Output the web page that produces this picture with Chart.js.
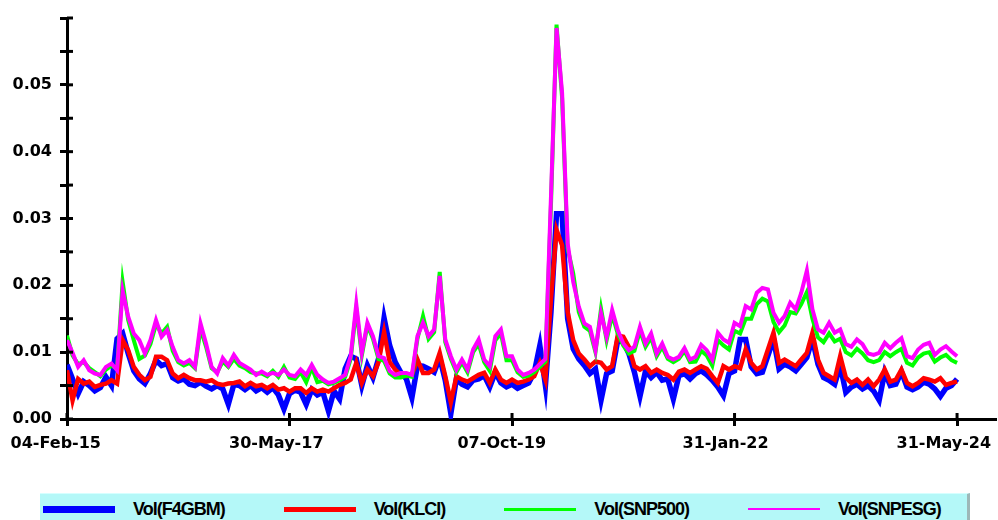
<!DOCTYPE html>
<html lang="en">
<head>
<meta charset="UTF-8">
<title>Volatility</title>
<script src="https://cdn.jsdelivr.net/npm/chart.js"></script>
<style>
    html, body { margin: 0; padding: 0; background: #fff; overflow: hidden; }
    .wrap { position: relative; width: 998px; height: 520px; }
    #volChart { position: absolute; left: 0; top: 0; }
    .legend {
        position: absolute; left: 40px; top: 493px; width: 930px; height: 34px;
        background: #b4f8f8; border-top: 1px solid #d6ffff; border-right: 3px solid #9db8b8;
        display: flex; align-items: flex-start; gap: 59px; padding-left: 3px; box-sizing: border-box;
        font-family: "Liberation Sans", Arial, sans-serif; font-weight: bold; font-size: 18px;
        letter-spacing: -1px; color: #000;
    }
    .legend .item { display: flex; align-items: center; height: 30px; }
    .legend .line { display: inline-block; width: 72px; margin-right: 18px; }
</style>
</head>
<body>
<div class="wrap">
    <canvas id="volChart" width="998" height="520"></canvas>
    <div class="legend" id="legend"></div>
</div>
<script>
// tick labels along the time axis (index of observation)
const xTickPos = [0, 40, 80, 120, 160];
const xTickLabels = ['04-Feb-15', '30-May-17', '07-Oct-19', '31-Jan-22', '31-May-24'];
const yTickLabels = ['0.00', '0.01', '0.02', '0.03', '0.04', '0.05'];

const seriesNames = ['Vol(F4GBM)', 'Vol(KLCI)', 'Vol(SNP500)', 'Vol(SNPESG)'];

const volF4GBM = [
    0.0081, 0.0060, 0.0038, 0.0056, 0.0050, 0.0042, 0.0047, 0.0063, 0.0050, 0.0120,
    0.0128, 0.0098, 0.0072, 0.0060, 0.0053, 0.0068, 0.0088, 0.0080, 0.0083, 0.0062,
    0.0057, 0.0060, 0.0052, 0.0050, 0.0055, 0.0049, 0.0045, 0.0050, 0.0045, 0.0022,
    0.0052, 0.0050, 0.0044, 0.0050, 0.0042, 0.0047, 0.0040, 0.0047, 0.0036, 0.0015,
    0.0038, 0.0043, 0.0040, 0.0022, 0.0044, 0.0036, 0.0040, 0.0012, 0.0042, 0.0030,
    0.0075, 0.0094, 0.0090, 0.0050, 0.0080, 0.0062, 0.0090, 0.0151, 0.0110, 0.0085,
    0.0070, 0.0060, 0.0032, 0.0080, 0.0079, 0.0075, 0.0070, 0.0092, 0.0058, 0.0008,
    0.0060, 0.0052, 0.0048, 0.0058, 0.0060, 0.0065, 0.0048, 0.0070, 0.0054, 0.0048,
    0.0052, 0.0046, 0.0050, 0.0054, 0.0070, 0.0110, 0.0050, 0.0160, 0.0307, 0.0307,
    0.0150, 0.0105, 0.0090, 0.0080, 0.0068, 0.0075, 0.0028, 0.0068, 0.0072, 0.0118,
    0.0115, 0.0098, 0.0070, 0.0034, 0.0072, 0.0062, 0.0070, 0.0058, 0.0060, 0.0030,
    0.0065, 0.0068, 0.0060, 0.0068, 0.0072, 0.0066, 0.0058, 0.0048, 0.0035, 0.0068,
    0.0072, 0.0119, 0.0119, 0.0078, 0.0068, 0.0070, 0.0095, 0.0120, 0.0075, 0.0082,
    0.0078, 0.0072, 0.0082, 0.0092, 0.0120, 0.0082, 0.0062, 0.0058, 0.0052, 0.0080,
    0.0040, 0.0048, 0.0052, 0.0045, 0.0050, 0.0042, 0.0028, 0.0070, 0.0050, 0.0052,
    0.0071, 0.0048, 0.0044, 0.0048, 0.0055, 0.0052, 0.0045, 0.0034, 0.0046, 0.0050,
    0.0060
];

const volKLCI = [
    0.0073, 0.0028, 0.0060, 0.0053, 0.0056, 0.0048, 0.0051, 0.0053, 0.0058, 0.0053,
    0.0118, 0.0103, 0.0078, 0.0066, 0.0058, 0.0063, 0.0093, 0.0093, 0.0088, 0.0068,
    0.0061, 0.0066, 0.0061, 0.0058, 0.0058, 0.0056, 0.0058, 0.0053, 0.0051, 0.0053,
    0.0054, 0.0056, 0.0049, 0.0054, 0.0049, 0.0051, 0.0046, 0.0051, 0.0044, 0.0046,
    0.0041, 0.0046, 0.0046, 0.0039, 0.0046, 0.0041, 0.0044, 0.0041, 0.0046, 0.0051,
    0.0054, 0.0059, 0.0084, 0.0054, 0.0074, 0.0064, 0.0085, 0.0130, 0.0085, 0.0074,
    0.0066, 0.0064, 0.0066, 0.0089, 0.0069, 0.0069, 0.0074, 0.0099, 0.0064, 0.0025,
    0.0064, 0.0059, 0.0056, 0.0061, 0.0066, 0.0069, 0.0054, 0.0074, 0.0059, 0.0054,
    0.0059, 0.0054, 0.0056, 0.0059, 0.0064, 0.0084, 0.0059, 0.0180, 0.0283, 0.0260,
    0.0160, 0.0118, 0.0098, 0.0089, 0.0079, 0.0086, 0.0084, 0.0074, 0.0079, 0.0125,
    0.0123, 0.0108, 0.0079, 0.0074, 0.0079, 0.0069, 0.0074, 0.0069, 0.0066, 0.0059,
    0.0071, 0.0074, 0.0069, 0.0074, 0.0079, 0.0075, 0.0064, 0.0054, 0.0079, 0.0074,
    0.0079, 0.0076, 0.0104, 0.0084, 0.0074, 0.0079, 0.0104, 0.0129, 0.0084, 0.0089,
    0.0084, 0.0079, 0.0089, 0.0099, 0.0129, 0.0089, 0.0069, 0.0064, 0.0059, 0.0094,
    0.0062, 0.0054, 0.0059, 0.0051, 0.0059, 0.0049, 0.0059, 0.0074, 0.0056, 0.0059,
    0.0074, 0.0054, 0.0049, 0.0054, 0.0061, 0.0059, 0.0056, 0.0061, 0.0051, 0.0054,
    0.0056
];

const volSNP500 = [
    0.0125, 0.0095, 0.0082, 0.0085, 0.0076, 0.0070, 0.0064, 0.0074, 0.0080, 0.0075,
    0.0205, 0.0148, 0.0118, 0.0090, 0.0095, 0.0112, 0.0142, 0.0128, 0.0138, 0.0102,
    0.0085, 0.0080, 0.0084, 0.0076, 0.0135, 0.0108, 0.0076, 0.0070, 0.0086, 0.0078,
    0.0090, 0.0080, 0.0076, 0.0070, 0.0068, 0.0068, 0.0064, 0.0072, 0.0063, 0.0078,
    0.0062, 0.0060, 0.0070, 0.0055, 0.0077, 0.0055, 0.0057, 0.0052, 0.0054, 0.0058,
    0.0063, 0.0090, 0.0165, 0.0095, 0.0140, 0.0120, 0.0090, 0.0087, 0.0068, 0.0062,
    0.0062, 0.0065, 0.0063, 0.0120, 0.0154, 0.0120, 0.0130, 0.0220, 0.0115, 0.0090,
    0.0070, 0.0085, 0.0070, 0.0100, 0.0112, 0.0085, 0.0072, 0.0118, 0.0128, 0.0088,
    0.0088, 0.0070, 0.0063, 0.0065, 0.0070, 0.0078, 0.0086, 0.0320, 0.0590, 0.0480,
    0.0255, 0.0218, 0.0160, 0.0138, 0.0132, 0.0100, 0.0165, 0.0118, 0.0156, 0.0128,
    0.0110, 0.0098, 0.0102, 0.0132, 0.0108, 0.0122, 0.0094, 0.0108, 0.0090, 0.0085,
    0.0090, 0.0102, 0.0085, 0.0086, 0.0102, 0.0095, 0.0080, 0.0118, 0.0110, 0.0104,
    0.0132, 0.0128, 0.0150, 0.0150, 0.0172, 0.0180, 0.0176, 0.0145, 0.0130, 0.0140,
    0.0160, 0.0158, 0.0172, 0.0190, 0.0150, 0.0122, 0.0115, 0.0128, 0.0116, 0.0120,
    0.0100, 0.0095, 0.0105, 0.0098, 0.0088, 0.0085, 0.0088, 0.0100, 0.0094, 0.0100,
    0.0105, 0.0084, 0.0080, 0.0092, 0.0098, 0.0100, 0.0086, 0.0092, 0.0096, 0.0088,
    0.0084
];

const volSNPESG = [
    0.0118, 0.0099, 0.0078, 0.0088, 0.0073, 0.0068, 0.0066, 0.0078, 0.0083, 0.0073,
    0.0192, 0.0153, 0.0128, 0.0118, 0.0098, 0.0118, 0.0148, 0.0123, 0.0133, 0.0108,
    0.0088, 0.0083, 0.0088, 0.0078, 0.0143, 0.0113, 0.0078, 0.0068, 0.0091, 0.0080,
    0.0096, 0.0084, 0.0079, 0.0074, 0.0066, 0.0071, 0.0066, 0.0069, 0.0066, 0.0074,
    0.0066, 0.0064, 0.0074, 0.0066, 0.0081, 0.0066, 0.0059, 0.0054, 0.0056, 0.0061,
    0.0066, 0.0094, 0.0172, 0.0099, 0.0144, 0.0124, 0.0094, 0.0091, 0.0072, 0.0066,
    0.0069, 0.0069, 0.0066, 0.0124, 0.0144, 0.0124, 0.0134, 0.0214, 0.0119, 0.0094,
    0.0074, 0.0089, 0.0074, 0.0104, 0.0119, 0.0089, 0.0079, 0.0124, 0.0134, 0.0094,
    0.0094, 0.0074, 0.0066, 0.0069, 0.0074, 0.0082, 0.0090, 0.0333, 0.0585, 0.0488,
    0.0263, 0.0205, 0.0168, 0.0143, 0.0138, 0.0103, 0.0158, 0.0123, 0.0163, 0.0133,
    0.0113, 0.0103, 0.0108, 0.0138, 0.0113, 0.0128, 0.0098, 0.0113, 0.0093, 0.0089,
    0.0093, 0.0106, 0.0089, 0.0093, 0.0111, 0.0103, 0.0089, 0.0129, 0.0119, 0.0114,
    0.0144, 0.0139, 0.0169, 0.0164, 0.0189, 0.0196, 0.0194, 0.0159, 0.0144, 0.0154,
    0.0174, 0.0164, 0.0189, 0.0222, 0.0164, 0.0134, 0.0129, 0.0144, 0.0129, 0.0134,
    0.0112, 0.0108, 0.0119, 0.0112, 0.0098, 0.0096, 0.0099, 0.0114, 0.0106, 0.0114,
    0.0121, 0.0094, 0.0091, 0.0104, 0.0111, 0.0114, 0.0096, 0.0104, 0.0109, 0.0101,
    0.0094
];

const seriesColors = ['#0000ff', '#ff0000', '#00ff00', '#ff00ff'];
const legendWidths = [7, 5, 3, 2];

function toPoints(values) {
    return values.map((v, i) => ({ x: i, y: v }));
}

// ticks in the reference cross the axis line, draw the inner half too
const crossTicks = {
    id: 'crossTicks',
    afterDatasetsDraw(chart) {
        const { ctx, chartArea, scales } = chart;
        ctx.save();
        ctx.strokeStyle = '#000';
        ctx.lineWidth = 3;
        scales.y.ticks.forEach(t => {
            const py = scales.y.getPixelForValue(t.value);
            ctx.beginPath();
            ctx.moveTo(chartArea.left, py);
            ctx.lineTo(chartArea.left + 6, py);
            ctx.stroke();
        });
        scales.x.ticks.forEach(t => {
            const px = scales.x.getPixelForValue(t.value);
            ctx.beginPath();
            ctx.moveTo(px, chartArea.bottom);
            ctx.lineTo(px, chartArea.bottom - 6);
            ctx.stroke();
        });
        ctx.restore();
    }
};

Chart.defaults.font.family = '"DejaVu Sans", sans-serif';
Chart.defaults.font.weight = 'bold';
Chart.defaults.font.size = 16;
Chart.defaults.color = '#000';

const allSeries = [volF4GBM, volKLCI, volSNP500, volSNPESG];
const drawOrder = [4, 3, 2, 1];
const lineWidths = [5.5, 4.5, 4, 4];

const ctx = document.getElementById('volChart').getContext('2d');
const volChart = new Chart(ctx, {
    type: 'line',
    data: {
        datasets: allSeries.map((vals, k) => ({
            label: seriesNames[k],
            data: toPoints(vals),
            borderColor: seriesColors[k],
            backgroundColor: seriesColors[k],
            borderWidth: lineWidths[k],
            pointRadius: 0,
            tension: 0,
            order: drawOrder[k]
        }))
    },
    options: {
        responsive: false,
        animation: false,
        devicePixelRatio: 1,
        layout: { padding: { left: 0, top: 18, right: 2, bottom: 59 } },
        plugins: { legend: { display: false }, tooltip: { enabled: false } },
        scales: {
            x: {
                type: 'linear',
                min: 0,
                max: 167,
                grid: { drawOnChartArea: false, drawTicks: true, tickLength: 7, tickWidth: 3, tickColor: '#000' },
                border: { color: '#000', width: 3 },
                afterBuildTicks: scale => { scale.ticks = xTickPos.map(v => ({ value: v })); },
                afterFit: scale => { scale.height = 42; scale.paddingLeft = 0; scale.paddingRight = 0; },
                ticks: {
                    maxRotation: 0,
                    autoSkip: false,
                    align: 'end',
                    labelOffset: 34,
                    padding: 8,
                    callback: (v, idx) => xTickLabels[idx]
                }
            },
            y: {
                min: 0,
                max: 0.06,
                grid: { drawOnChartArea: false, drawTicks: true, tickLength: 7, tickWidth: 3, tickColor: '#000' },
                border: { color: '#000', width: 3 },
                afterFit: scale => { scale.width = 67; },
                ticks: {
                    stepSize: 0.005,
                    padding: 8,
                    callback: (v, idx) => (idx % 2 === 0 && yTickLabels[idx / 2]) ? yTickLabels[idx / 2] : ''
                }
            }
        }
    },
    plugins: [crossTicks]
});

// legend strip under the plot
const legendEl = document.getElementById('legend');
seriesNames.forEach((name, k) => {
    const item = document.createElement('div');
    item.className = 'item';
    const line = document.createElement('span');
    line.className = 'line';
    line.style.height = legendWidths[k] + 'px';
    line.style.background = seriesColors[k];
    const txt = document.createElement('span');
    txt.textContent = name;
    item.appendChild(line);
    item.appendChild(txt);
    legendEl.appendChild(item);
});
</script>
</body>
</html>
